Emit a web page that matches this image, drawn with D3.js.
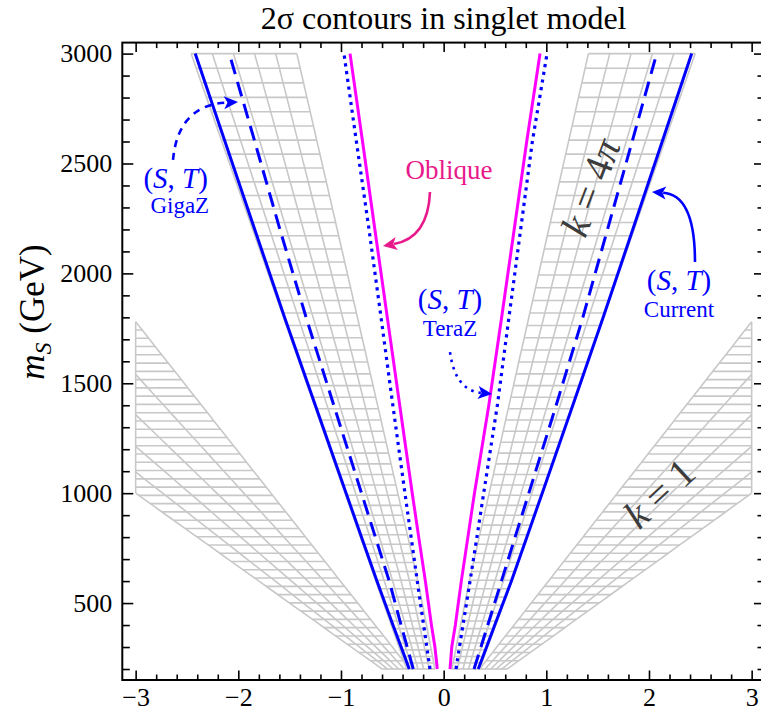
<!DOCTYPE html>
<html>
<head>
<meta charset="utf-8">
<script src="https://cdn.jsdelivr.net/npm/d3@7"></script>
<style>
body { margin: 0; background: #fff; }
</style>
</head>
<body>
<svg id="chart" width="761" height="717"></svg>
<script>
var massGrid = [200, 300, 400, 600, 800, 1000, 1400, 1800, 2200, 2600, 3000];

// (S,T) current, solid blue
var currentLeft  = [-0.335, -0.414, -0.494, -0.650, -0.800, -0.950, -1.250, -1.550, -1.840, -2.130, -2.420];
var currentRight = [0.337, 0.418, 0.498, 0.660, 0.810, 0.960, 1.258, 1.554, 1.842, 2.129, 2.416];
// (S,T) GigaZ, dashed blue
var gigaLeft  = [-0.296, -0.355, -0.415, -0.530, -0.665, -0.800, -1.070, -1.340, -1.595, -1.840, -2.088];
var gigaRight = [0.296, 0.363, 0.430, 0.563, 0.696, 0.830, 1.096, 1.356, 1.596, 1.836, 2.075];
// (S,T) TeraZ, dotted blue
var teraLeft  = [-0.133, -0.164, -0.195, -0.257, -0.317, -0.377, -0.495, -0.610, -0.727, -0.850, -0.971];
var teraRight = [0.120, 0.154, 0.188, 0.257, 0.324, 0.390, 0.523, 0.636, 0.750, 0.864, 1.007];
// Oblique, magenta
var obliqueLeft  = [-0.062, -0.085, -0.119, -0.178, -0.243, -0.306, -0.428, -0.549, -0.670, -0.790, -0.912];
var obliqueRight = [0.062, 0.079, 0.114, 0.172, 0.236, 0.300, 0.440, 0.565, 0.687, 0.809, 0.939];

// k = 4pi band edges
var band4piMass = [200, 600, 3000];
var band4piInnerRight = [0.08, 0.25, 1.41];
var band4piOuterRight = [0.35, 0.665, 2.45];
var band4piInnerLeft  = [-0.085, -0.25, -1.43];
var band4piOuterLeft  = [-0.36, -0.66, -2.46];

// k = 1 band edges, both end where they reach |x| = 3
var band1InnerMass = [200, 1780];
var band1OuterMass = [200, 1000];
var band1InnerRight = [0.35, 3.0];
var band1OuterRight = [0.62, 3.0];
var band1InnerLeft  = [-0.33, -3.0];
var band1OuterLeft  = [-0.60, -3.0];

// Tick values
var xMajor = [-3, -2, -1, 0, 1, 2, 3];
var xMinor = d3.range(-30, 31, 2).filter(function(i) { return i % 10 !== 0; }).map(function(i) { return i / 10; });
var yMajor = [500, 1000, 1500, 2000, 2500, 3000];
var yMinor = d3.range(200, 3001, 100).filter(function(v) { return v % 500 !== 0; });

var serif = "'Liberation Serif', 'Times New Roman', serif";
var blue = "#0000ff";
var pink = "#e8198b";
var meshGray = "#c8c8c8";

var svg = d3.select("#chart");
var plotLeft = 122.3, plotRight = 765, plotTop = 42.6, plotBottom = 680;

var x = d3.scaleLinear().domain([-3.13, 3.13]).range([plotLeft, plotRight]);
var y = d3.scaleLinear().domain([150, 3050]).range([plotBottom, plotTop]);

svg.append("defs").append("clipPath").attr("id", "clipK1")
    .append("rect")
    .attr("x", x(-3)).attr("y", plotTop)
    .attr("width", x(3) - x(-3)).attr("height", plotBottom - plotTop);

// Draw a meshed band between an inner and outer edge
function drawBand(g, innerM, innerX, outerM, outerX, levels, mTop)
{
    var inner = d3.scaleLinear().domain(innerM).range(innerX);
    var outer = d3.scaleLinear().domain(outerM).range(outerX);
    var m0 = levels[0];

    // Lines of constant mass
    levels.forEach(function(m) {
        g.append("line")
            .attr("x1", x(inner(m))).attr("x2", x(outer(m)))
            .attr("y1", y(m)).attr("y2", y(m));
    });

    // Lines running along the band
    var samples = d3.range(0, 61).map(function(i) { return m0 + (mTop - m0) * i / 60; });
    [0, 0.2, 0.4, 0.6, 0.8, 1].forEach(function(f) {
        var pts = samples.map(function(m) {
            return [x(inner(m) * (1 - f) + outer(m) * f), y(m)];
        });
        g.append("path").attr("d", d3.line()(pts)).attr("fill", "none");
    });
}

var meshG = svg.append("g")
    .attr("stroke", meshGray)
    .attr("stroke-width", 1.6)
    .attr("fill", "none");

// k = 4pi bands, mesh denser at low mass
var u0 = Math.pow(200, 2 / 3), u1 = Math.pow(3000, 2 / 3);
var levels4pi = d3.range(57).map(function(i) { return Math.pow(u0 + (u1 - u0) * i / 56, 1.5); });
drawBand(meshG, band4piMass, band4piInnerLeft, band4piMass, band4piOuterLeft, levels4pi, 3000);
drawBand(meshG, band4piMass, band4piInnerRight, band4piMass, band4piOuterRight, levels4pi, 3000);

// k = 1 bands, clipped at |x| = 3
var k1Top = band1InnerMass[1];
var levelsK1 = d3.range(43).map(function(i) { return 200 + i * (k1Top - 200) / 42; });
var k1G = meshG.append("g").attr("clip-path", "url(#clipK1)");
drawBand(k1G, band1InnerMass, band1InnerLeft, band1OuterMass, band1OuterLeft, levelsK1, k1Top);
drawBand(k1G, band1InnerMass, band1InnerRight, band1OuterMass, band1OuterRight, levelsK1, k1Top);
[-3, 3].forEach(function(v) {
    meshG.append("line")
        .attr("x1", x(v)).attr("x2", x(v))
        .attr("y1", y(band1OuterMass[1])).attr("y2", y(band1InnerMass[1]));
});

// Contour lines
var line = d3.line()
    .x(function(d) { return x(d[0]); })
    .y(function(d) { return y(d[1]); });

function drawCurve(xs, color, width, dash)
{
    var pts = xs.map(function(v, i) { return [v, massGrid[i]]; });
    var p = svg.append("path")
        .attr("d", line(pts))
        .attr("fill", "none")
        .attr("stroke", color)
        .attr("stroke-width", width);
    if (dash) p.attr("stroke-dasharray", dash);
    return p;
}

drawCurve(obliqueLeft, "#ff00ff", 3);
drawCurve(obliqueRight, "#ff00ff", 3);
drawCurve(teraLeft, blue, 3.2, "3.2 4.6");
drawCurve(teraRight, blue, 3.2, "3.2 4.6");
drawCurve(gigaLeft, blue, 3, "15 8");
drawCurve(gigaRight, blue, 3, "15 8");
drawCurve(currentLeft, blue, 3);
drawCurve(currentRight, blue, 3);

// Frame and ticks
function styleAxis(g)
{
    g.select(".domain").remove();
    g.selectAll(".tick line").attr("stroke", "#000").attr("stroke-width", 1.6);
    g.selectAll("text").attr("font-family", serif).attr("font-size", 26).attr("fill", "#000");
}

svg.append("g").attr("transform", "translate(0," + plotBottom + ")")
    .call(d3.axisBottom(x).tickValues(xMajor).tickSize(-9.5).tickPadding(8).tickFormat(d3.format("d")))
    .call(styleAxis);
svg.append("g").attr("transform", "translate(0," + plotBottom + ")")
    .call(d3.axisBottom(x).tickValues(xMinor).tickSize(-5.5).tickFormat(""))
    .call(styleAxis);
svg.append("g").attr("transform", "translate(0," + plotTop + ")")
    .call(d3.axisTop(x).tickValues(xMajor).tickSize(-9.5).tickFormat(""))
    .call(styleAxis);
svg.append("g").attr("transform", "translate(0," + plotTop + ")")
    .call(d3.axisTop(x).tickValues(xMinor).tickSize(-5.5).tickFormat(""))
    .call(styleAxis);
svg.append("g").attr("transform", "translate(" + plotLeft + ",0)")
    .call(d3.axisLeft(y).tickValues(yMajor).tickSize(-11).tickPadding(10).tickFormat(d3.format("d")))
    .call(styleAxis);
svg.append("g").attr("transform", "translate(" + plotLeft + ",0)")
    .call(d3.axisLeft(y).tickValues(yMinor).tickSize(-7.5).tickFormat(""))
    .call(styleAxis);
svg.append("g").attr("transform", "translate(" + plotRight + ",0)")
    .call(d3.axisRight(y).tickValues(yMajor).tickSize(-11).tickFormat(""))
    .call(styleAxis);
svg.append("g").attr("transform", "translate(" + plotRight + ",0)")
    .call(d3.axisRight(y).tickValues(yMinor).tickSize(-7.5).tickFormat(""))
    .call(styleAxis);

svg.append("rect")
    .attr("x", plotLeft).attr("y", plotTop)
    .attr("width", plotRight - plotLeft).attr("height", plotBottom - plotTop)
    .attr("fill", "none").attr("stroke", "#000").attr("stroke-width", 2);

// Title and axis label
svg.append("text")
    .attr("x", x(0)).attr("y", 29)
    .attr("text-anchor", "middle")
    .attr("font-family", serif).attr("font-size", 32)
    .text("2σ contours in singlet model");

var yLab = svg.append("text")
    .attr("transform", "translate(44,312) rotate(-90)")
    .attr("text-anchor", "middle")
    .attr("font-family", serif).attr("font-size", 35);
yLab.append("tspan").attr("font-style", "italic").text("m");
yLab.append("tspan").attr("font-style", "italic").attr("font-size", 24).attr("dy", 7).text("S");
yLab.append("tspan").attr("dy", -7).text(" (GeV)");

// Annotations
function addST(cx, cm, color)
{
    var t = svg.append("text")
        .attr("x", x(cx)).attr("y", y(cm))
        .attr("text-anchor", "middle")
        .attr("font-family", serif).attr("font-size", 29)
        .attr("fill", color);
    t.append("tspan").text("(");
    t.append("tspan").attr("font-style", "italic").text("S");
    t.append("tspan").text(", ");
    t.append("tspan").attr("font-style", "italic").text("T");
    t.append("tspan").text(")");
}

function addLabel(cx, cm, txt, color, size)
{
    svg.append("text")
        .attr("x", x(cx)).attr("y", y(cm))
        .attr("text-anchor", "middle")
        .attr("font-family", serif).attr("font-size", size)
        .attr("fill", color)
        .text(txt);
}

function addArrow(p0, c, p1, color, dash)
{
    var a = [x(p0[0]), y(p0[1])], b = [x(c[0]), y(c[1])], e = [x(p1[0]), y(p1[1])];
    var dx = e[0] - b[0], dy = e[1] - b[1];
    var len = Math.sqrt(dx * dx + dy * dy);
    var ux = dx / len, uy = dy / len;
    var L = 14, W = 6.5;
    var base = [e[0] - ux * L * 0.8, e[1] - uy * L * 0.8];
    var path = d3.path();
    path.moveTo(a[0], a[1]);
    path.quadraticCurveTo(b[0], b[1], base[0], base[1]);
    var p = svg.append("path")
        .attr("d", path.toString())
        .attr("fill", "none")
        .attr("stroke", color)
        .attr("stroke-width", 2.6);
    if (dash) p.attr("stroke-dasharray", dash);
    var head = [
        e,
        [e[0] - ux * L - uy * W, e[1] - uy * L + ux * W],
        [e[0] - ux * L * 0.75, e[1] - uy * L * 0.75],
        [e[0] - ux * L + uy * W, e[1] - uy * L - ux * W]
    ];
    svg.append("path")
        .attr("d", "M" + head.join("L") + "Z")
        .attr("fill", color);
}

// GigaZ
addST(-2.61, 2390, blue);
addLabel(-2.57, 2275, "GigaZ", blue, 23);
addArrow([-2.636, 2516], [-2.587, 2766], [-2.003, 2780], blue, "7 6");

// Oblique
addLabel(0.052, 2430, "Oblique", pink, 27);
addArrow([-0.133, 2370], [-0.152, 2161], [-0.591, 2125], pink);

// TeraZ
addST(0.062, 1840, blue);
addLabel(0.062, 1715, "TeraZ", blue, 23);
addArrow([0.062, 1642], [0.111, 1469], [0.471, 1451], blue, "2.6 5");

// Current
addST(2.292, 1925, blue);
addLabel(2.292, 1800, "Current", blue, 23);
addArrow([2.448, 2052], [2.448, 2357], [2.029, 2370], blue);

// k labels inside the bands
function addK(cx, cm, angle, value)
{
    var t = svg.append("text")
        .attr("transform", "translate(" + x(cx) + "," + y(cm) + ") rotate(" + angle + ")")
        .attr("text-anchor", "middle")
        .attr("dy", "0.35em")
        .attr("font-family", serif).attr("font-size", 40)
        .attr("fill", "#3c3c3c");
    t.append("tspan").attr("font-style", "italic").text("k");
    t.append("tspan").text(" = ");
    value(t);
}

addK(1.426, 2393, -69, function(t) {
    t.append("tspan").text("4");
    t.append("tspan").attr("font-style", "italic").text("π");
});
addK(2.098, 1001, -43, function(t) {
    t.append("tspan").text("1");
});
</script>
</body>
</html>
